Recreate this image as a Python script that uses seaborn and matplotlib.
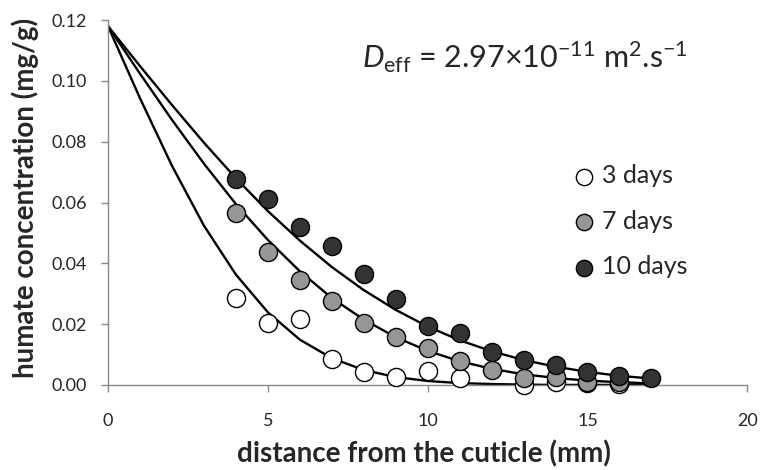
import matplotlib
matplotlib.use("Agg")
import matplotlib.pyplot as plt
import seaborn as sns
import pandas as pd

# measured points
x_3d = [4, 5, 6, 7, 8, 9, 10, 11, 13, 14, 15, 16]
y_3d = [0.0286, 0.0204, 0.0216, 0.0084, 0.0041, 0.0026, 0.0046, 0.0023, 0.0001, 0.0009, 0.0005, 0.0004]

x_7d = [4, 5, 6, 7, 8, 9, 10, 11, 12, 13, 14, 15, 16]
y_7d = [0.0566, 0.0437, 0.0345, 0.0276, 0.0204, 0.0158, 0.0120, 0.0079, 0.0049, 0.0023, 0.0026, 0.0008, 0.0008]

x_10d = [4, 5, 6, 7, 8, 9, 10, 11, 12, 13, 14, 15, 16, 17]
y_10d = [0.0676, 0.0612, 0.0520, 0.0457, 0.0365, 0.0283, 0.0195, 0.0171, 0.0109, 0.0082, 0.0066, 0.0043, 0.0030, 0.0023]

# fitted model curves
x_fit = [0, 1, 2, 3, 4, 5, 6, 7, 8, 9, 10, 11, 12, 13, 14, 15, 16, 17]
fit_3d = [0.118, 0.0943, 0.0721, 0.0524, 0.0363, 0.0239, 0.0149, 0.0088, 0.0049, 0.0026, 0.0013,
          0.0006, 0.0003, 0.0001, 0.0000, 0.0000, 0.0000, 0.0000]
fit_7d = [0.118, 0.1024, 0.0872, 0.0728, 0.0595, 0.0477, 0.0374, 0.0286, 0.0215, 0.0157, 0.0112,
          0.0078, 0.0053, 0.0035, 0.0023, 0.0014, 0.0009, 0.0005]
fit_10d = [0.118, 0.1049, 0.0921, 0.0797, 0.0680, 0.0572, 0.0475, 0.0388, 0.0312, 0.0247, 0.0192,
           0.0147, 0.0111, 0.0082, 0.0060, 0.0043, 0.0030, 0.0021]

labels = ["3 days", "7 days", "10 days"]
colors = ["white", "#969696", "#333333"]
yticks = [0, 0.02, 0.04, 0.06, 0.08, 0.10, 0.12]

sns.set_style("white")
plt.rcParams["font.family"] = ["Lato", "DejaVu Sans"]
plt.rcParams["mathtext.fontset"] = "custom"
plt.rcParams["mathtext.rm"] = "Lato"
plt.rcParams["mathtext.it"] = "Lato:italic"

fig = plt.figure(figsize=(7.61, 4.70), dpi=100)
ax = fig.add_axes([0.142, 0.181, 0.840, 0.776])

for fit in [fit_3d, fit_7d, fit_10d]:
    sns.lineplot(x=x_fit, y=fit, ax=ax, color="black", linewidth=1.7, legend=False, zorder=2)

points = [(x_3d, y_3d), (x_7d, y_7d), (x_10d, y_10d)]
for (xs, ys), lab, col in zip(points, labels, colors):
    df = pd.DataFrame({"x": xs, "y": ys})
    sns.scatterplot(data=df, x="x", y="y", ax=ax, color=col, edgecolor="black", linewidth=1.0,
                    s=170, label=lab, zorder=3, clip_on=False)

ax.set_xlim(0, 20)
ax.set_ylim(0, 0.12)
ax.set_xticks([0, 5, 10, 15, 20])
ax.set_yticks(yticks)
ax.set_yticklabels([f"{v:.2f}" for v in yticks])
ax.tick_params(axis="both", labelsize=13, length=5, width=1, color="#888888", direction="out",
               bottom=True, left=True)
ax.tick_params(axis="x", pad=15)
ax.tick_params(axis="y", pad=10)

for side in ["top", "right"]:
    ax.spines[side].set_visible(False)
for side in ["left", "bottom"]:
    ax.spines[side].set_color("#888888")
    ax.spines[side].set_linewidth(1)

ax.set_xlabel("distance from the cuticle (mm)", fontsize=20, fontweight="bold")
ax.set_ylabel("humate concentration (mg/g)", fontsize=20, fontweight="bold")
ax.xaxis.set_label_coords(0.494, -0.153)
ax.yaxis.set_label_coords(-0.108, 0.512)

ax.text(0.397, 0.898, r"$D_{\mathrm{eff}}$ = 2.97×10$^{-11}$ m$^2$.s$^{-1}$",
        transform=ax.transAxes, fontsize=22, va="center", ha="left")

ax.legend(loc="upper left", bbox_to_anchor=(0.69, 0.632), frameon=False, fontsize=18,
          handletextpad=-0.3, labelspacing=0.9, borderaxespad=0, markerscale=0.9)

fig.savefig("out.png", dpi=100)
